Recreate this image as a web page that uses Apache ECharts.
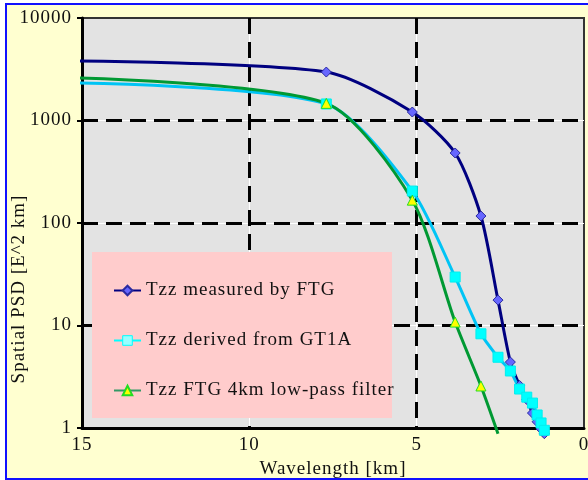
<!DOCTYPE html>
<html><head><meta charset="utf-8">
<script src="https://cdn.jsdelivr.net/npm/echarts@6/dist/echarts.min.js"></script>
<style>
html,body{margin:0;padding:0;background:#fff;overflow:hidden;}
#frame{position:absolute;left:5px;top:3px;width:620px;height:477px;border:2px solid #1010ff;background:#FFFFD0;box-sizing:border-box;}
#chart{position:absolute;left:0;top:0;width:588px;height:480px;}
</style></head><body>
<div id="frame"></div>
<div id="chart"></div>
<script>
// ---- data ----
const wavelength  = [15.2, 7.7, 5.13, 3.85, 3.08, 2.57, 2.2, 1.925, 1.71, 1.54, 1.4, 1.283, 1.185];
const measuredFTG = [3800, 2970, 1210, 482, 117, 17.7, 4.4, 2.6, 1.9, 1.4, 1.15, 0.98, 0.88];
const derivedGT1A = [2320, 1450, 205, 29.7, 8.3, 4.9, 3.6, 2.4, 2.0, 1.75, 1.34, 1.12, 0.95];
const filteredFTG = [2600, 1470, 167, 10.8, 2.57, 0.88];
const seriesNames = ['Tzz measured by FTG', 'Tzz derived from GT1A', 'Tzz FTG 4km low-pass filter'];
const xTicks = [15, 10, 5, 0];
const yTicks = [1, 10, 100, 1000, 10000];
const xTitle = 'Wavelength [km]';
const yTitle = 'Spatial PSD [E^2 km]';

// wide letter spacing like the original (canvas text only)
(function () {
  const P = CanvasRenderingContext2D.prototype;
  if ('letterSpacing' in P) {
    const orig = P.fillText;
    P.fillText = function () { this.letterSpacing = '1px'; return orig.apply(this, arguments); };
  }
})();

const FONT = 'Liberation Serif';
function pts(vals, hidden) {
  return vals.map((v, i) => hidden.indexOf(i) >= 0
    ? { value: [wavelength[i], v], symbol: 'none' }
    : { value: [wavelength[i], v] });
}
const dash = { color: '#000', width: 3, type: [16, 8] };
const xMin = Math.min(...xTicks), xMax = Math.max(...xTicks), xInt = Math.abs(xTicks[0] - xTicks[1]);
const yMin = Math.min(...yTicks), yMax = Math.max(...yTicks);

const chart = echarts.init(document.getElementById('chart'), null, { renderer: 'canvas' });
chart.setOption({
  animation: false,
  textStyle: { fontFamily: FONT },
  grid: { left: 82, right: 4, top: 18, bottom: 52, outerBoundsMode: 'none', containLabel: false,
          show: true, backgroundColor: '#E3E3E3', borderColor: '#333', borderWidth: 2 },
  xAxis: [{
    type: 'value', min: xMin, max: xMax, interval: xInt, inverse: true, z: 2,
    axisLine: { show: true, onZero: false, lineStyle: { color: '#000', width: 3 } },
    axisTick: { show: false },
    axisLabel: { color: '#111', fontSize: 19, fontFamily: FONT, margin: 8, showMinLabel: true, showMaxLabel: true },
    splitLine: { show: true, showMinLine: false, showMaxLine: false, lineStyle: dash },
    name: xTitle, nameLocation: 'middle', nameGap: 31,
    nameTextStyle: { color: '#111', fontSize: 19, fontFamily: FONT }
  }, {
    type: 'value', min: xMin, max: xMax, interval: xInt, inverse: true, z: 1, position: 'bottom',
    axisLine: { show: false }, axisTick: { show: false }, axisLabel: { show: false },
    splitLine: { show: true, showMinLine: false, showMaxLine: false, lineStyle: { color: '#fff', width: 1 } }
  }],
  yAxis: [{
    type: 'log', logBase: 10, min: yMin, max: yMax, z: 2,
    axisLine: { show: true, onZero: false, lineStyle: { color: '#000', width: 3 } },
    axisTick: { show: true, length: 5, lineStyle: { color: '#000', width: 2 } },
    minorTick: { show: false },
    axisLabel: { color: '#111', fontSize: 19, fontFamily: FONT, margin: 10, formatter: v => String(Math.round(v)) },
    splitLine: { show: true, showMinLine: false, showMaxLine: false, lineStyle: dash }
  }, {
    type: 'log', logBase: 10, min: yMin, max: yMax, z: 1, position: 'left',
    axisLine: { show: false }, axisTick: { show: false }, axisLabel: { show: false },
    splitLine: { show: true, showMinLine: false, showMaxLine: false, lineStyle: { color: '#fff', width: 1 } }
  }],
  legend: {
    orient: 'vertical', left: 113, top: 281, padding: 0, itemGap: 31,
    itemWidth: 27, itemHeight: 12, selectedMode: false, z: 6,
    textStyle: { fontFamily: FONT, fontSize: 19, color: '#111' },
    data: [
      { name: seriesNames[0] },
      { name: seriesNames[1], lineStyle: { color: '#00FFFF' }, itemStyle: { color: '#99FFFF', borderColor: '#00FFFF', borderWidth: 1 } },
      { name: seriesNames[2], lineStyle: { color: '#339966' } }
    ]
  },
  graphic: [
    { type: 'rect', z: 4, shape: { x: 92, y: 252, width: 300, height: 166 }, style: { fill: '#FFCCCC' } },
    { type: 'text', z: 4, x: 19, y: 289, rotation: Math.PI / 2,
      style: { text: yTitle, fontSize: 19, fontFamily: FONT, fill: '#111', textAlign: 'center', textVerticalAlign: 'middle', align: 'center', verticalAlign: 'middle' } }
  ],
  series: [
    { name: seriesNames[0], type: 'line', data: pts(measuredFTG, [0]), smooth: 0.25, clip: false, z: 5,
      showAllSymbol: true, symbol: 'diamond', symbolSize: 10,
      lineStyle: { color: '#000080', width: 3 }, itemStyle: { color: '#6666FF', borderColor: '#2a2aa0', borderWidth: 1 },
      emphasis: { disabled: true } },
    { name: seriesNames[1], type: 'line', data: pts(derivedGT1A, [0]), smooth: 0.25, clip: false, z: 5,
      showAllSymbol: true, symbol: 'rect', symbolSize: 10,
      lineStyle: { color: '#00C4F5', width: 3 }, itemStyle: { color: '#00FFFF', borderColor: '#00EEEE', borderWidth: 1 },
      emphasis: { disabled: true } },
    { name: seriesNames[2], type: 'line', data: pts(filteredFTG, [0, 5]), smooth: 0.25, clip: false, z: 5,
      showAllSymbol: true, symbol: 'triangle', symbolSize: 10,
      lineStyle: { color: '#009933', width: 3 }, itemStyle: { color: '#FFFF00', borderColor: '#22DD22', borderWidth: 1 },
      emphasis: { disabled: true } }
  ]
});
</script>
</body></html>
